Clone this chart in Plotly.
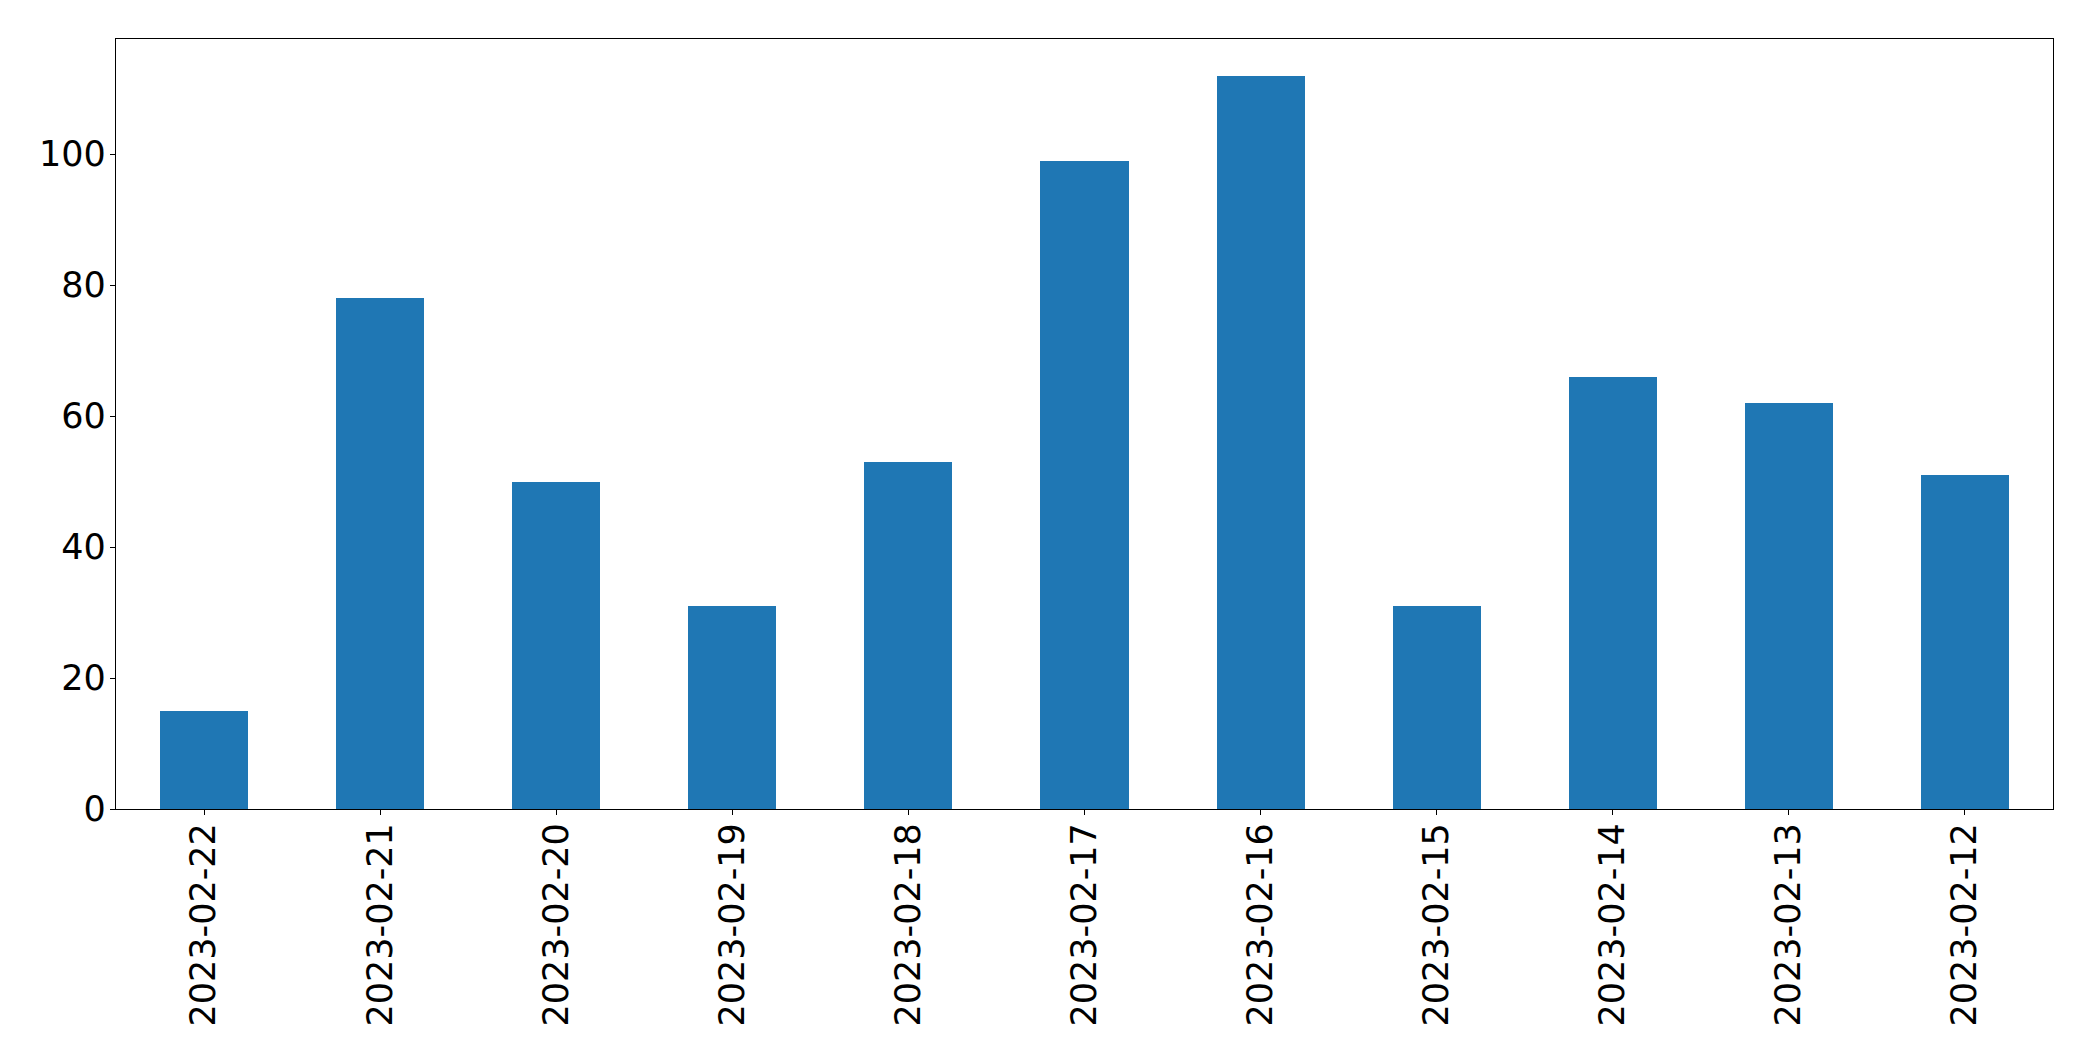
import plotly.graph_objects as go

dates = ["2023-02-22", "2023-02-21", "2023-02-20", "2023-02-19", "2023-02-18",
         "2023-02-17", "2023-02-16", "2023-02-15", "2023-02-14", "2023-02-13", "2023-02-12"]
counts = [15, 78, 50, 31, 53, 99, 112, 31, 66, 62, 51]
y_ticks = [0, 20, 40, 60, 80, 100]

fig = go.Figure(go.Bar(x=dates, y=counts, width=0.5, marker=dict(color="#1f77b4", line=dict(width=0))))

font = dict(family="DejaVu Sans", size=35, color="black")
fig.update_layout(
    width=2077, height=1045,
    margin=dict(l=108, r=32, t=31, b=244, autoexpand=False),
    paper_bgcolor="white", plot_bgcolor="white",
    showlegend=False, bargap=0,
)
fig.update_xaxes(
    type="category", range=[-0.5, len(dates) - 0.5],
    showline=True, mirror=True, linecolor="black", linewidth=1.3,
    ticks="outside", ticklen=5, tickwidth=1.3, tickcolor="black",
    tickangle=-90, tickfont=font, showgrid=False, zeroline=False,
    ticklabelstandoff=-6,
)
fig.update_yaxes(
    range=[0, 117.6], tickvals=y_ticks, ticktext=[str(v) for v in y_ticks],
    showline=True, mirror=True, linecolor="black", linewidth=1.3,
    ticks="outside", ticklen=5, tickwidth=1.3, tickcolor="black",
    tickfont=font, showgrid=False, zeroline=False,
    ticklabelstandoff=-3,
)
fig.write_html("out.html")
